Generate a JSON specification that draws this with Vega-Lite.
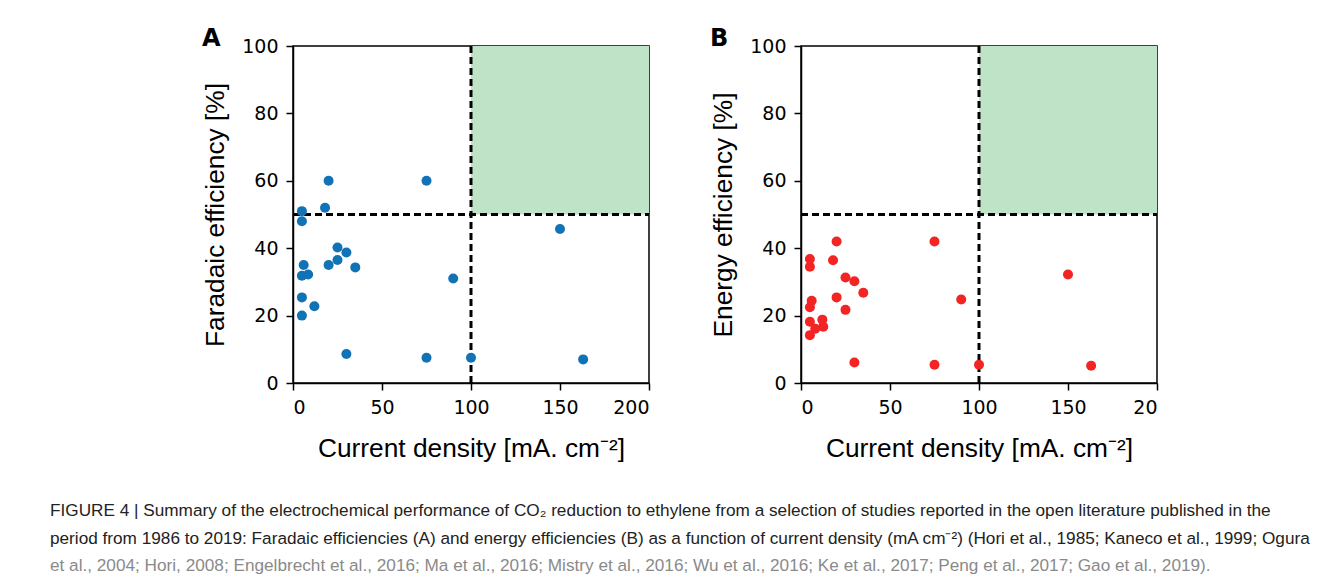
{
  "$schema": "https://vega.github.io/schema/vega-lite/v6.json",
  "background": "white",
  "padding": {"left": 50, "top": 26, "right": 5, "bottom": 5},
  "config": {
    "view": {"stroke": "black", "strokeWidth": 1.5},
    "axis": {
      "grid": false,
      "domainColor": "black",
      "domainWidth": 1.5,
      "tickColor": "black",
      "tickWidth": 1.5,
      "tickSize": 7,
      "labelFont": "DejaVu Sans",
      "labelFontSize": 19,
      "labelColor": "black",
      "labelPadding": 8,
      "titleFont": "Liberation Sans",
      "titleFontSize": 26.3,
      "titleFontWeight": "normal",
      "titleColor": "black"
    },
    "axisX": {"titlePadding": 18},
    "axisY": {"titlePadding": 12},
    "concat": {"spacing": 57}
  },
  "title": {
    "text": [
      "FIGURE 4 | Summary of the electrochemical performance of CO₂ reduction to ethylene from a selection of studies reported in the open literature published in the",
      "period from 1986 to 2019: Faradaic efficiencies (A) and energy efficiencies (B) as a function of current density (mA cm⁻²) (Hori et al., 1985; Kaneco et al., 1999; Ogura"
    ],
    "subtitle": "et al., 2004; Hori, 2008; Engelbrecht et al., 2016; Ma et al., 2016; Mistry et al., 2016; Wu et al., 2016; Ke et al., 2017; Peng et al., 2017; Gao et al., 2019).",
    "orient": "bottom",
    "anchor": "start",
    "frame": "group",
    "dx": -243,
    "font": "Liberation Sans",
    "fontSize": 17.2,
    "fontWeight": "normal",
    "color": "#222222",
    "lineHeight": 28,
    "subtitleFont": "Liberation Sans",
    "subtitleFontSize": 17.2,
    "subtitleColor": "#8a8a8a",
    "subtitlePadding": 10,
    "offset": 40
  },
  "hconcat": [
    {
      "width": 356,
      "height": 337,
      "title": {"text": "A", "anchor": "start", "frame": "group", "dx": -91, "dy": 14, "font": "DejaVu Sans", "fontSize": 24, "fontWeight": "bold", "color": "black", "offset": 0},
      "layer": [
        {
          "data": {"values": [{"x": 100, "x2": 200, "y": 50, "y2": 100}]},
          "mark": {"type": "rect", "color": "#bfe3c6"},
          "encoding": {
            "x": {"field": "x", "type": "quantitative", "scale": {"domain": [0, 200], "nice": false}, "axis": {"values": [0, 50, 100, 150, 200], "title": "Current density [mA. cm⁻²]"}},
            "x2": {"field": "x2"},
            "y": {"field": "y", "type": "quantitative", "scale": {"domain": [0, 100], "nice": false}, "axis": {"values": [0, 20, 40, 60, 80, 100], "title": "Faradaic efficiency [%]"}},
            "y2": {"field": "y2"}
          }
        },
        {
          "data": {"values": [{"x": 100, "y": 0, "y2": 100}]},
          "mark": {"type": "rule", "color": "black", "strokeWidth": 3, "strokeDash": [7, 4]},
          "encoding": {
            "x": {"field": "x", "type": "quantitative"},
            "y": {"field": "y", "type": "quantitative"},
            "y2": {"field": "y2"}
          }
        },
        {
          "data": {"values": [{"x": 0, "x2": 200, "y": 50}]},
          "mark": {"type": "rule", "color": "black", "strokeWidth": 3, "strokeDash": [7, 4]},
          "encoding": {
            "x": {"field": "x", "type": "quantitative"},
            "x2": {"field": "x2"},
            "y": {"field": "y", "type": "quantitative"}
          }
        },
        {
          "data": {"values": [
            {"j": 20, "fe": 60}, {"j": 75, "fe": 60}, {"j": 5, "fe": 51}, {"j": 5, "fe": 48},
            {"j": 18, "fe": 52}, {"j": 25, "fe": 40.2}, {"j": 30, "fe": 38.7}, {"j": 6, "fe": 35},
            {"j": 20, "fe": 35}, {"j": 25, "fe": 36.5}, {"j": 35, "fe": 34.3}, {"j": 5, "fe": 31.8},
            {"j": 8.5, "fe": 32.2}, {"j": 5, "fe": 25.4}, {"j": 12, "fe": 22.8}, {"j": 5, "fe": 20},
            {"j": 30, "fe": 8.6}, {"j": 75, "fe": 7.5}, {"j": 100, "fe": 7.5}, {"j": 150, "fe": 45.7},
            {"j": 90, "fe": 31}, {"j": 163, "fe": 7}
          ]},
          "mark": {"type": "point", "filled": true, "size": 100, "opacity": 1, "color": "#1173b5"},
          "encoding": {
            "x": {"field": "j", "type": "quantitative"},
            "y": {"field": "fe", "type": "quantitative"}
          }
        }
      ]
    },
    {
      "width": 356,
      "height": 337,
      "title": {"text": "B", "anchor": "start", "frame": "group", "dx": -91, "dy": 14, "font": "DejaVu Sans", "fontSize": 24, "fontWeight": "bold", "color": "black", "offset": 0},
      "layer": [
        {
          "data": {"values": [{"x": 100, "x2": 200, "y": 50, "y2": 100}]},
          "mark": {"type": "rect", "color": "#bfe3c6"},
          "encoding": {
            "x": {"field": "x", "type": "quantitative", "scale": {"domain": [0, 200], "nice": false}, "axis": {"values": [0, 50, 100, 150, 200], "labelExpr": "datum.value == 200 ? '20' : datum.label", "title": "Current density [mA. cm⁻²]"}},
            "x2": {"field": "x2"},
            "y": {"field": "y", "type": "quantitative", "scale": {"domain": [0, 100], "nice": false}, "axis": {"values": [0, 20, 40, 60, 80, 100], "title": "Energy efficiency [%]"}},
            "y2": {"field": "y2"}
          }
        },
        {
          "data": {"values": [{"x": 100, "y": 0, "y2": 100}]},
          "mark": {"type": "rule", "color": "black", "strokeWidth": 3, "strokeDash": [7, 4]},
          "encoding": {
            "x": {"field": "x", "type": "quantitative"},
            "y": {"field": "y", "type": "quantitative"},
            "y2": {"field": "y2"}
          }
        },
        {
          "data": {"values": [{"x": 0, "x2": 200, "y": 50}]},
          "mark": {"type": "rule", "color": "black", "strokeWidth": 3, "strokeDash": [7, 4]},
          "encoding": {
            "x": {"field": "x", "type": "quantitative"},
            "x2": {"field": "x2"},
            "y": {"field": "y", "type": "quantitative"}
          }
        },
        {
          "data": {"values": [
            {"j": 20, "ee": 42}, {"j": 75, "ee": 42}, {"j": 5, "ee": 36.8}, {"j": 5, "ee": 34.5},
            {"j": 18, "ee": 36.4}, {"j": 25, "ee": 31.3}, {"j": 30, "ee": 30.2}, {"j": 35, "ee": 26.8},
            {"j": 20, "ee": 25.4}, {"j": 6, "ee": 24.4}, {"j": 5, "ee": 22.5}, {"j": 25, "ee": 21.7},
            {"j": 5, "ee": 18.2}, {"j": 12, "ee": 18.8}, {"j": 12.5, "ee": 16.7}, {"j": 8, "ee": 16.1},
            {"j": 5, "ee": 14.2}, {"j": 30, "ee": 6.1}, {"j": 75, "ee": 5.4}, {"j": 100, "ee": 5.4},
            {"j": 150, "ee": 32.2}, {"j": 90, "ee": 24.8}, {"j": 163, "ee": 5.1}
          ]},
          "mark": {"type": "point", "filled": true, "size": 100, "opacity": 1, "color": "#f22424"},
          "encoding": {
            "x": {"field": "j", "type": "quantitative"},
            "y": {"field": "ee", "type": "quantitative"}
          }
        }
      ]
    }
  ]
}
